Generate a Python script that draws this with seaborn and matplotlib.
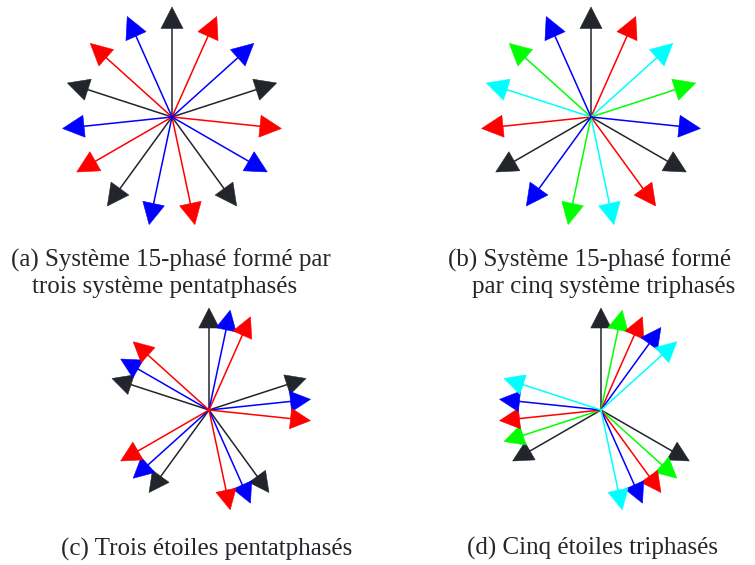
import numpy as np
import pandas as pd
import matplotlib
matplotlib.use("Agg")
import matplotlib.pyplot as plt
from matplotlib.patches import Polygon
import seaborn as sns

# Phasor angles in degrees (counter-clockwise from +x) and their colour groups
angles_a = [90, 66, 42, 18, -6, -30, -54, -78, -102, -126, -150, -174, 162, 138, 114]
groups_a = ["noir", "rouge", "bleu", "noir", "rouge", "bleu", "noir", "rouge", "bleu",
            "noir", "rouge", "bleu", "noir", "rouge", "bleu"]

angles_b = [90, 66, 42, 18, -6, -30, -54, -78, -102, -126, -150, -174, 162, 138, 114]
groups_b = ["noir", "rouge", "cyan", "vert", "bleu", "noir", "rouge", "cyan", "vert", "bleu",
            "noir", "rouge", "cyan", "vert", "bleu"]

angles_c = [90, 18, -54, -126, 162,
            78, 6, -66, -138, 150,
            66, -6, -78, -150, 138]
groups_c = ["noir"] * 5 + ["bleu"] * 5 + ["rouge"] * 5

angles_d = [90, -30, 210,
            78, -42, 198,
            66, -54, 186,
            54, -66, 174,
            42, -78, 162]
groups_d = ["noir"] * 3 + ["vert"] * 3 + ["rouge"] * 3 + ["bleu"] * 3 + ["cyan"] * 3

captions_a = ["(a) Système 15-phasé formé par", "trois système pentatphasés"]
captions_b = ["(b) Système 15-phasé formé", "par cinq système triphasés"]
caption_c = "(c) Trois étoiles pentatphasés"
caption_d = "(d) Cinq étoiles triphasés"

palette = {"noir": "#22262c", "rouge": "#ff0000", "bleu": "#0000ff",
           "vert": "#00ff00", "cyan": "#00ffff"}

sns.set_theme(style="white")
plt.rcParams["font.family"] = ["Liberation Serif", "DejaVu Serif"]

W_PX, H_PX = 755, 565
fig = plt.figure(figsize=(W_PX / 100, H_PX / 100), dpi=100)
fig.patch.set_facecolor("white")


def star_axes(cx, cy, w=280, h=250):
    """Axes whose data units are pixels, centred on (cx, cy) in figure pixels."""
    ax = fig.add_axes([(cx - w / 2) / W_PX, 1 - (cy + h / 2) / H_PX, w / W_PX, h / H_PX])
    ax.set_aspect("equal")
    ax.axis("off")
    return ax


def draw_star(ax, angles, groups, radius, head_len, head_wid):
    th = np.deg2rad(np.asarray(angles, dtype=float))
    shaft = radius - head_len + 1
    rows = []
    for i, (t, g) in enumerate(zip(th, groups)):
        rows.append({"phase": i, "groupe": g, "x": 0.0, "y": 0.0})
        rows.append({"phase": i, "groupe": g, "x": shaft * np.cos(t), "y": shaft * np.sin(t)})
    df = pd.DataFrame(rows)
    sns.lineplot(data=df, x="x", y="y", units="phase", hue="groupe", palette=palette,
                 estimator=None, sort=False, legend=False, lw=1.1, ax=ax)
    ax.set_xlabel("")
    ax.set_ylabel("")
    for t, g in zip(th, groups):
        u = np.array([np.cos(t), np.sin(t)])
        n = np.array([-u[1], u[0]])
        tip = radius * u
        base = (radius - head_len) * u
        tri = np.array([tip, base + n * head_wid / 2, base - n * head_wid / 2])
        ax.add_patch(Polygon(tri, closed=True, facecolor=palette[g], edgecolor=palette[g],
                             lw=0.4, joinstyle="miter", zorder=3))
    ax.set_xlim(-140, 140)
    ax.set_ylim(-125, 125)


ax_a = star_axes(172, 117)
draw_star(ax_a, angles_a, groups_a, 110, 21.5, 22)
ax_b = star_axes(591, 117)
draw_star(ax_b, angles_b, groups_b, 110, 21.5, 22)
ax_c = star_axes(209, 410)
draw_star(ax_c, angles_c, groups_c, 102, 20, 20.5)
ax_d = star_axes(601, 410)
draw_star(ax_d, angles_d, groups_d, 102, 20, 20.5)


def caption(x, y, s):
    fig.text(x / W_PX, 1 - y / H_PX, s, ha="left", va="baseline",
             fontsize=18, color="#23262b")


caption(11, 267, captions_a[0])
caption(32, 293, captions_a[1])
caption(448, 267, captions_b[0])
caption(472, 293, captions_b[1])
caption(61, 556, caption_c)
caption(467, 555, caption_d)

fig.savefig("out.png", dpi=100, facecolor="white")
